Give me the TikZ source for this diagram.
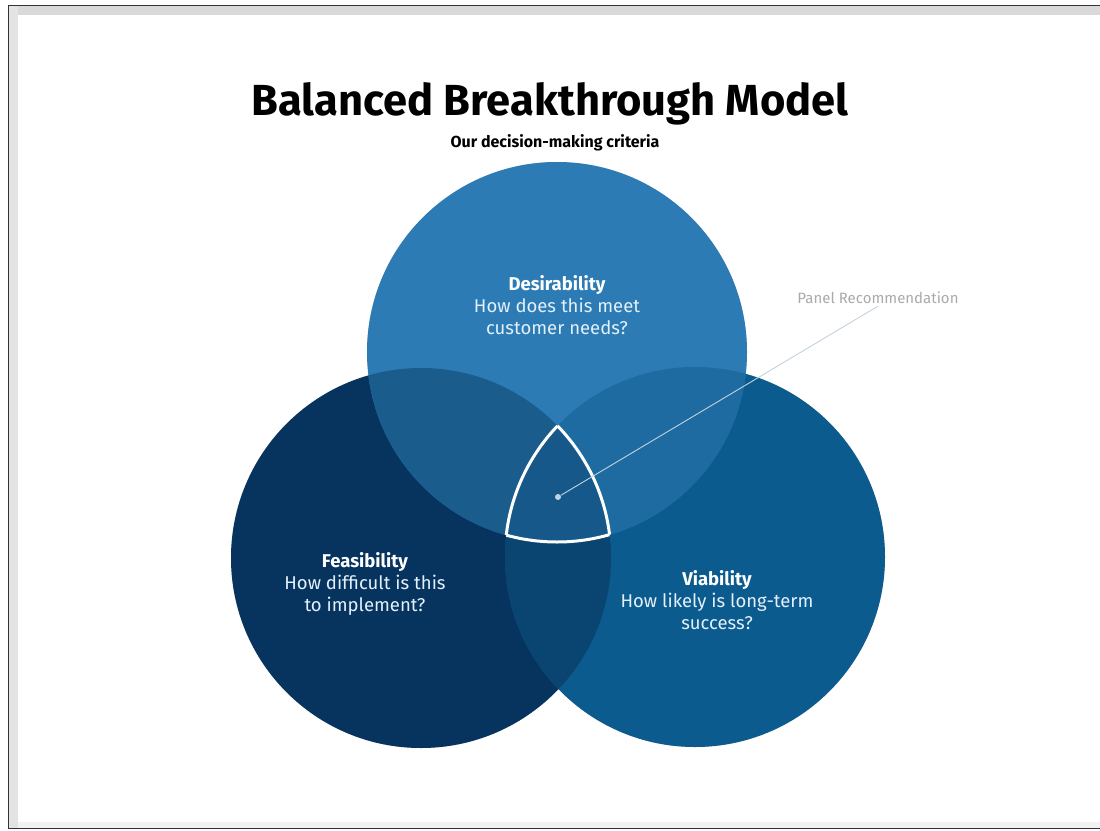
\documentclass[tikz,border=0pt]{standalone}
\usepackage{fontspec}
\setmainfont{Fira Sans}
\usetikzlibrary{positioning}

\definecolor{topblue}{HTML}{2C7BB4}
\definecolor{leftblue}{HTML}{06345F}
\definecolor{rightblue}{HTML}{0B5B8F}
\definecolor{topleft}{HTML}{1A5C8C}
\definecolor{topright}{HTML}{1D6BA0}
\definecolor{leftright}{HTML}{0A4572}
\definecolor{middle}{HTML}{165889}
\definecolor{labeltxt}{HTML}{E3F0FA}
\definecolor{pointer}{HTML}{C4D2DE}
\definecolor{panelgray}{HTML}{AAAAAA}

\tikzset{
  crit/.style={text=labeltxt, align=center, font=\fontsize{18.5}{22}\selectfont},
  shade/.style={black, opacity=0.07},
}

\begin{document}
\begin{tikzpicture}[x=1pt,y=-1pt]
\useasboundingbox (0,0) rectangle (1100,830);
% page frame
\fill[white] (0,0) rectangle (1100,830);
\fill[gray!30] (8,5) rectangle (1100,15);
\fill[gray!22] (8,5) rectangle (18,828);
\fill[gray!10] (18,822) rectangle (1100,828);
\draw[black!80, line width=1pt] (1100,5) -- (8,5) -- (8,828) -- (1100,828);

% title
\node[font=\fontsize{43.5}{48}\bfseries\selectfont] (title) at (550,104) {Balanced Breakthrough Model};
\node[font=\fontsize{16}{20}\bfseries\selectfont] (sub) at (555,143) {Our decision-making criteria};

% circle centres
\coordinate (T) at (557,352);
\coordinate (L) at (421,558);
\coordinate (R) at (695,557);
\def\rad{190pt}

% soft shadows
\foreach \s in {2,4,6}{
  \fill[shade, shift={(\s,\s)}] (L) circle[radius=\rad];
  \fill[shade, shift={(\s,\s)}] (R) circle[radius=\rad];
  \fill[shade, shift={(\s,\s)}] (T) circle[radius=\rad];
}

% the three circles
\fill[leftblue] (L) circle[radius=\rad];
\fill[rightblue] (R) circle[radius=\rad];
\fill[topblue] (T) circle[radius=\rad];

% overlaps
\begin{scope}
  \clip (L) circle[radius=\rad];
  \fill[leftright] (R) circle[radius=\rad];
  \fill[topleft] (T) circle[radius=\rad];
\end{scope}
\begin{scope}
  \clip (R) circle[radius=\rad];
  \fill[topright] (T) circle[radius=\rad];
\end{scope}
\begin{scope}
  \clip (L) circle[radius=\rad];
  \clip (R) circle[radius=\rad];
  \fill[middle] (T) circle[radius=\rad];
\end{scope}

% white outline of the centre
\begin{scope}
  \clip (L) circle[radius=\rad];
  \clip (R) circle[radius=\rad];
  \draw[white, line width=3pt] (T) circle[radius=\rad];
\end{scope}
\begin{scope}
  \clip (T) circle[radius=\rad];
  \clip (R) circle[radius=\rad];
  \draw[white, line width=3pt] (L) circle[radius=\rad];
\end{scope}
\begin{scope}
  \clip (T) circle[radius=\rad];
  \clip (L) circle[radius=\rad];
  \draw[white, line width=3pt] (R) circle[radius=\rad];
\end{scope}

% criteria text
\node[crit] (desire) at (557,305) {\textbf{\color{white}Desirability}\\How does this meet\\customer needs?};
\node[crit] (feas) at (365,584) {\textbf{\color{white}Feasibility}\\How difficult is this\\to implement?};
\node[crit] (viab) at (717,600) {\textbf{\color{white}Viability}\\How likely is long-term\\success?};

% panel pointer
\node[circle, fill=pointer, inner sep=0pt, minimum size=6pt] (dot) at (558,497) {};
\node[text=panelgray, font=\fontsize{15}{18}\selectfont, inner sep=2pt] (panel) at (878,298) {Panel Recommendation};
\draw[pointer, line width=0.9pt] (panel.south) -- (dot);
\end{tikzpicture}
\end{document}
